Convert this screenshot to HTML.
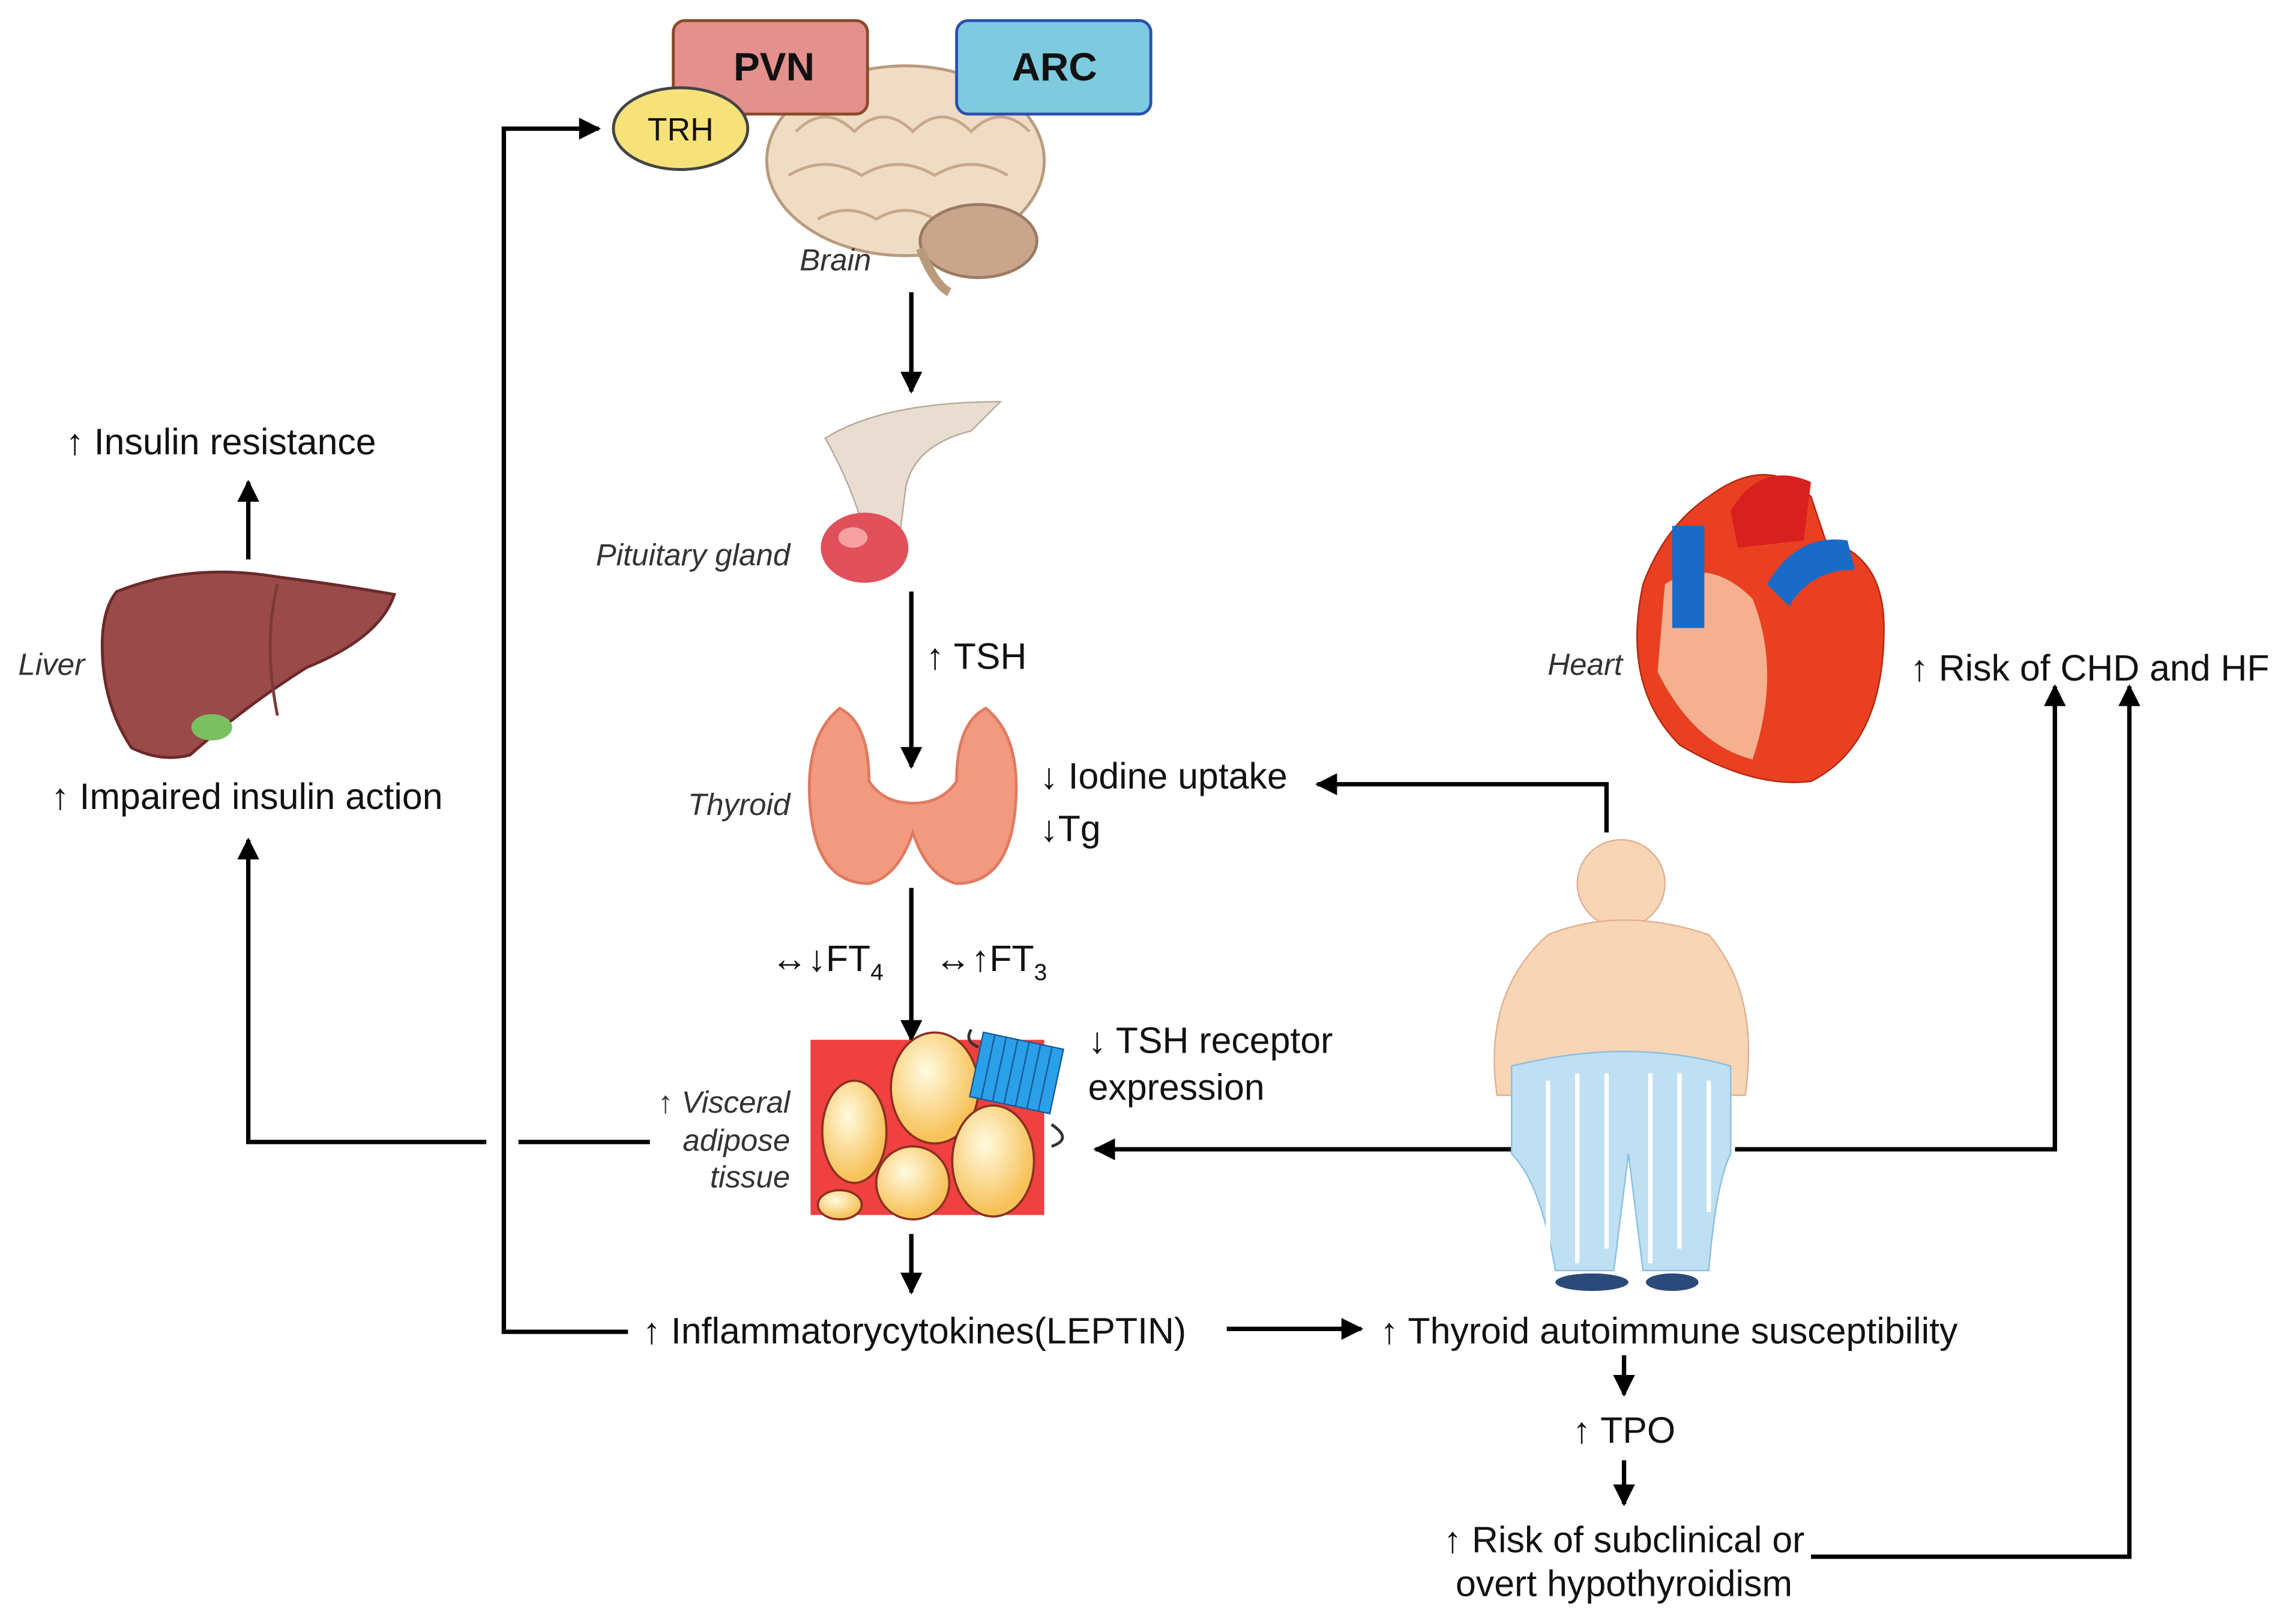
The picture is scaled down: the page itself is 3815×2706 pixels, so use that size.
<!DOCTYPE html>
<html><head><meta charset="utf-8"><style>
html,body{margin:0;padding:0;background:#fff}
svg{display:block}
text{font-family:"Liberation Sans",sans-serif;fill:#111}
.t{font-size:25px}
.i{font-size:21px;font-style:italic;fill:#333}
</style></head><body>
<svg width="3815" height="2706" viewBox="0 0 1568 1112" xmlns="http://www.w3.org/2000/svg">
<defs>
<marker id="a" viewBox="0 0 10 10" refX="9" refY="5" markerWidth="5" markerHeight="5" orient="auto-start-reverse"><path d="M0,0L10,5L0,10z" fill="#000"/></marker>
<radialGradient id="fat" cx="40%" cy="35%" r="60%"><stop offset="0" stop-color="#fffbe0"/><stop offset="1" stop-color="#f7c25a"/></radialGradient>
</defs>
<rect width="1568" height="1112" fill="#fff"/>
<g stroke="#000" stroke-width="3" fill="none">
<line x1="624" y1="200" x2="624" y2="268" marker-end="url(#a)"/>
<line x1="624" y1="405" x2="624" y2="525" marker-end="url(#a)"/>
<line x1="624" y1="608" x2="624" y2="712" marker-end="url(#a)"/>
<line x1="624" y1="845" x2="624" y2="885" marker-end="url(#a)"/>
<line x1="840" y1="910" x2="932" y2="910" marker-end="url(#a)"/>
<line x1="1112" y1="928" x2="1112" y2="955" marker-end="url(#a)"/>
<line x1="1112" y1="1000" x2="1112" y2="1030" marker-end="url(#a)"/>
<polyline points="1240,1066 1458,1066 1458,470" marker-end="url(#a)"/>
<polyline points="1100,570 1100,537 902,537" marker-end="url(#a)"/>
<line x1="1040" y1="787" x2="750" y2="787" marker-end="url(#a)"/>
<polyline points="1188,787 1407,787 1407,470" marker-end="url(#a)"/>
<line x1="445" y1="782" x2="355" y2="782"/>
<polyline points="333,782 170,782 170,575" marker-end="url(#a)"/>
<polyline points="430,912 345,912 345,88 410,88" marker-end="url(#a)"/>
<line x1="170" y1="383" x2="170" y2="330" marker-end="url(#a)"/>
</g>
<ellipse cx="620" cy="110" rx="95" ry="65" fill="#efdcc4" stroke="#b99a7c" stroke-width="2"/>
<path d="M545,90 q20,-20 40,0 q20,-20 40,0 q20,-20 40,0 q20,-20 40,0 M540,120 q25,-15 50,0 q25,-15 50,0 q25,-15 50,0 M560,150 q20,-12 40,0 q20,-12 40,0" stroke="#c7a88a" stroke-width="2" fill="none"/>
<ellipse cx="670" cy="165" rx="40" ry="25" fill="#c9a58c" stroke="#9c7a62" stroke-width="2"/>
<path d="M630,170 q10,25 20,30" stroke="#b99a7c" stroke-width="6" fill="none"/>
<rect x="461" y="14" width="133" height="64" rx="8" fill="#e4908c" stroke="#8a4a2a" stroke-width="2"/>
<text x="530" y="55" text-anchor="middle" style="font-size:27px;font-weight:bold">PVN</text>
<rect x="655" y="14" width="133" height="64" rx="8" fill="#7ecbe0" stroke="#2a4fb0" stroke-width="2"/>
<text x="722" y="55" text-anchor="middle" style="font-size:27px;font-weight:bold">ARC</text>
<ellipse cx="466" cy="88" rx="46" ry="28" fill="#f7e27a" stroke="#444" stroke-width="2"/>
<text x="466" y="96" text-anchor="middle" style="font-size:22px">TRH</text>
<text x="572" y="185" class="i" text-anchor="middle">Brain</text>
<path d="M565,300 q40,-25 120,-25 l-20,20 q-40,10 -45,40 l-5,40 -20,0 q-10,-40 -30,-75z" fill="#e8ddd0" stroke="#b8a898"/>
<ellipse cx="592" cy="375" rx="30" ry="24" fill="#e0505a"/>
<ellipse cx="584" cy="368" rx="10" ry="7" fill="#f7a0a4"/>
<text x="541" y="387" class="i" text-anchor="end">Pituitary gland</text>
<text x="634" y="458" class="t">↑ TSH</text>
<path d="M575,485 q-25,20 -20,70 q5,50 40,50 q20,-5 30,-35 q10,30 30,35 q35,0 40,-50 q5,-50 -20,-70 q-20,10 -20,50 q-10,15 -30,15 q-20,0 -30,-15 q0,-40 -20,-50z" fill="#f29a80" stroke="#e07a60" stroke-width="2"/>
<text x="541" y="558" class="i" text-anchor="end">Thyroid</text>
<text x="712" y="540" class="t">↓ Iodine uptake</text>
<text x="712" y="576" class="t">↓Tg</text>
<text x="528" y="665" class="t">↔↓FT<tspan font-size="16" dy="6">4</tspan></text>
<text x="640" y="665" class="t">↔↑FT<tspan font-size="16" dy="6">3</tspan></text>
<rect x="555" y="712" width="160" height="120" fill="#f04040"/>
<g fill="url(#fat)" stroke="#8a3020" stroke-width="1.5">
<ellipse cx="585" cy="775" rx="22" ry="35"/><ellipse cx="640" cy="745" rx="30" ry="38"/>
<ellipse cx="680" cy="795" rx="28" ry="38"/><ellipse cx="625" cy="810" rx="25" ry="25"/>
<ellipse cx="700" cy="735" rx="18" ry="20"/><ellipse cx="575" cy="825" rx="15" ry="10"/>
</g>
<g transform="rotate(12 695 735)"><rect x="668" y="712" width="56" height="45" fill="#2aa0e8" stroke="#1a5a9a"/>
<path d="M676,712v45M684,712v45M692,712v45M700,712v45M708,712v45M716,712v45" stroke="#1a5a9a"/></g>
<path d="M665,705 q-5,8 5,12 M720,770 q15,10 0,15" stroke="#333" stroke-width="2" fill="none"/>
<text x="541" y="762" class="i" text-anchor="end">↑ Visceral</text>
<text x="541" y="788" class="i" text-anchor="end">adipose</text>
<text x="541" y="813" class="i" text-anchor="end">tissue</text>
<text x="745" y="721" class="t">↓ TSH receptor</text>
<text x="745" y="753" class="t">expression</text>
<text x="440" y="920" class="t">↑ Inflammatorycytokines(LEPTIN)</text>
<text x="945" y="920" class="t">↑ Thyroid autoimmune susceptibility</text>
<text x="1112" y="988" class="t" text-anchor="middle">↑ TPO</text>
<text x="1112" y="1063" class="t" text-anchor="middle">↑ Risk of subclinical or</text>
<text x="1112" y="1093" class="t" text-anchor="middle">overt hypothyroidism</text>
<circle cx="1110" cy="605" r="30" fill="#f7d5b5" stroke="#e0b090"/>
<path d="M1060,640 q50,-20 110,0 q35,40 25,110 l-170,0 q-10,-70 35,-110z" fill="#f7d5b5" stroke="#e0b090"/>
<path d="M1035,730 q80,-20 150,0 l0,60 q-10,20 -15,80 l-45,0 -10,-80 -10,80 -40,0 q-10,-60 -30,-80z" fill="#bfe0f2" stroke="#8ac0e0"/>
<path d="M1060,740v120M1080,735v130M1100,735v120M1130,735v130M1150,735v120M1170,740v90" stroke="#fff" stroke-width="3"/>
<ellipse cx="1090" cy="878" rx="25" ry="6" fill="#2a4a7a"/><ellipse cx="1145" cy="878" rx="18" ry="6" fill="#2a4a7a"/>
<path d="M1170,340 q40,-30 70,0 l10,30 q40,10 40,60 q0,80 -50,105 q-40,5 -90,-25 q-40,-40 -25,-110 q15,-40 45,-60z" fill="#e84020" stroke="#b02810"/>
<path d="M1140,400 q30,-20 60,10 q20,50 0,110 q-40,-10 -65,-60z" fill="#f5b090"/>
<rect x="1145" y="360" width="22" height="70" fill="#1a6ac8"/>
<path d="M1210,400 q20,-35 55,-30 l5,20 q-30,0 -45,25z" fill="#1a6ac8"/>
<path d="M1185,350 q20,-35 55,-20 l-5,40 -45,5z" fill="#d82020"/>
<text x="1111" y="462" class="i" text-anchor="end">Heart</text>
<text x="1308" y="466" class="t">↑ Risk of CHD and HF</text>
<path d="M80,405 q50,-20 110,-10 q40,5 80,12 q-10,30 -60,50 q-40,25 -80,60 q-20,5 -40,-5 q-20,-30 -20,-70 q0,-25 10,-37z" fill="#9a4a48" stroke="#6a2a2a" stroke-width="2"/>
<path d="M190,400 q-10,40 0,90" stroke="#7a3a38" stroke-width="2" fill="none"/>
<ellipse cx="145" cy="498" rx="14" ry="9" fill="#7ac060"/>
<text x="58" y="462" class="i" text-anchor="end">Liver</text>
<text x="35" y="554" class="t">↑ Impaired insulin action</text>
<text x="45" y="311" class="t">↑ Insulin resistance</text>
</svg>
</body></html>
